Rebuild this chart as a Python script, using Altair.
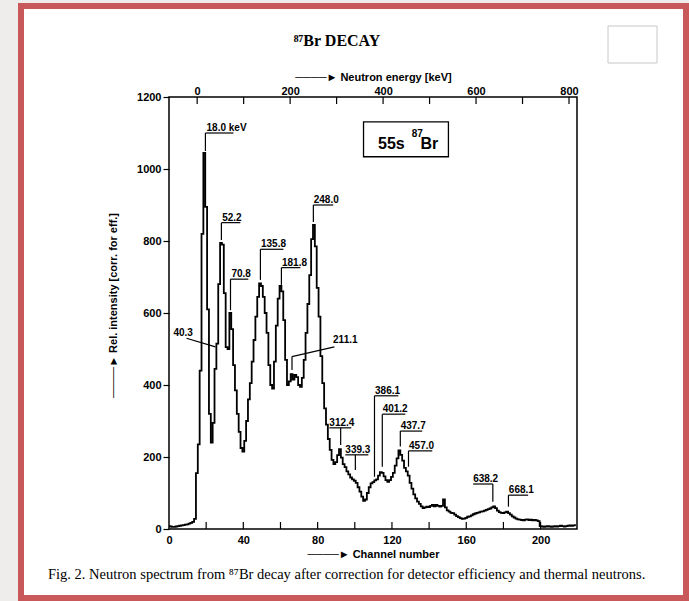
import altair as alt
import pandas as pd

FONT = "Liberation Sans Narrow, Liberation Sans, Arial, sans-serif"
SERIF = "Liberation Serif, DejaVu Serif, serif"

# ---------------- data ----------------
channel = list(range(220))
intensity = [
    8, 7, 6, 6, 7, 8, 9, 10, 11, 12, 13, 15, 17, 20, 28, 155, 235, 440, 820, 1045,
    895, 610, 320, 240, 295, 445, 515, 680, 795, 790, 655, 505, 500, 600, 555, 455, 385, 320, 270, 225,
    215, 245, 300, 360, 405, 465, 525, 590, 645, 682, 675, 645, 600, 545, 455, 400, 390, 465, 565, 640,
    675, 660, 580, 470, 400, 410, 430, 415, 428, 422, 400, 395, 420, 470, 545, 625, 705, 805, 845, 785,
    670, 590, 480, 405, 335, 290, 250, 220, 192, 180, 186, 205, 222, 198, 180, 172, 160, 152, 143, 138,
    134, 128, 116, 104, 90, 78, 82, 100, 116, 127, 130, 135, 138, 148, 158, 156, 146, 136, 131, 136,
    145, 156, 176, 196, 218, 206, 190, 170, 160, 148, 128, 112, 96, 85, 76, 70, 63, 58, 60, 62,
    61, 64, 67, 63, 67, 64, 62, 64, 82, 60, 52, 48, 45, 44, 40, 36, 33, 30, 28, 29,
    31, 34, 35, 38, 41, 43, 45, 46, 48, 49, 51, 53, 55, 57, 60, 63, 58, 51, 47, 45,
    44, 46, 48, 44, 40, 35, 32, 29, 27, 26, 25, 24, 26, 27, 25, 26, 24, 25, 24, 22,
    8, 7, 6, 7, 8, 7, 6, 7, 8, 7, 8, 9, 8, 7, 8, 9, 10, 9, 10, 11,
]

x_label_values = [0, 40, 80, 120, 160, 200]
x_tick_values = [20, 40, 60, 80, 100, 120, 140, 160, 180, 200]
y_values = [0, 200, 400, 600, 800, 1000, 1200]
energy_tick_values = [0, 100, 200, 300, 400, 500, 600, 700, 800]
energy_label_values = [0, 200, 400, 600, 800]

CH_DOMAIN = [0, 219.6]
E_DOMAIN = [-60.6, 817.2]
Y_DOMAIN = [0, 1200]

# peak annotations (underlined labels with vertical leaders)
ann_label = ["18.0 keV", "52.2", "70.8", "135.8", "181.8", "248.0", "312.4", "339.3",
             "386.1", "401.2", "437.7", "457.0", "638.2", "668.1"]
ann_text_ch = [20.2, 28.6, 33.6, 49.5, 60.8, 77.9, 86.3, 94.9, 110.9, 115.0, 124.7, 129.2, 163.7, 182.9]
ann_bar_v = [1100, 851, 694, 777, 726, 900, 281, 206, 370, 319, 272, 217, 125, 94]
ann_bar_start = [19.6, 28.2, 33.1, 49.2, 60.5, 77.7, 86.3, 94.9, 110.6, 114.8, 124.5, 128.9, 163.7, 182.7]
ann_bar_end = [34.7, 38.4, 42.7, 61.6, 70.7, 88.4, 98.1, 107.3, 123.4, 127.2, 136.3, 141.7, 174.3, 193.3]
ann_lead_ch = [19.6, 28.2, 33.1, 49.2, 60.5, 77.7, 92.4, 100.3, 110.6, 114.8, 124.5, 128.9, 174.3, 182.7]
ann_lead_v = [1050, 803, 608, 692, 678, 853, 233, 164, 145, 173, 229, 173, 76, 62]

# labels with slanted leaders
slant_label = ["40.3", "211.1"]
slant_text_ch = [2.4, 88.3]
slant_text_v = [536, 517]
slant_seg_x = [9.4, 89.0, 66.2]
slant_seg_y = [530, 506, 479]
slant_seg_x2 = [25.0, 66.2, 66.2]
slant_seg_y2 = [506, 479, 442]

# nuclide box
box_ch = [104.7, 150.4]
box_v = [1034, 1131]
box_text = ["55s", "87", "Br"]
box_text_ch = [112.5, 130.6, 135.3]
box_text_v = [1055, 1088, 1055]
box_text_size = [16, 10, 16]

# ---------------- tables ----------------
spec_df = pd.DataFrame({"ch": channel, "val": intensity})

seg_rows = []
for i in range(len(ann_label)):
    seg_rows.append({"sx": ann_bar_start[i], "sx2": ann_bar_end[i], "sy": ann_bar_v[i], "sy2": ann_bar_v[i]})
    seg_rows.append({"sx": ann_lead_ch[i], "sx2": ann_lead_ch[i], "sy": ann_bar_v[i], "sy2": ann_lead_v[i]})
for i in range(len(slant_seg_x)):
    seg_rows.append({"sx": slant_seg_x[i], "sx2": slant_seg_x2[i], "sy": slant_seg_y[i], "sy2": slant_seg_y2[i]})
seg_df = pd.DataFrame(seg_rows)

lab_rows = [{"tx": ann_text_ch[i], "ty": ann_bar_v[i] + 5.5, "label": ann_label[i]} for i in range(len(ann_label))]
lab_rows += [{"tx": slant_text_ch[i], "ty": slant_text_v[i], "label": slant_label[i]} for i in range(len(slant_label))]
lab_df = pd.DataFrame(lab_rows)


def xs():
    return alt.Scale(domain=CH_DOMAIN, nice=False, zero=False)


ys = alt.Scale(domain=Y_DOMAIN, nice=False, zero=False)
one = pd.DataFrame({"k": [0]})

# ---------------- layers ----------------
gray_left = alt.Chart(one).mark_rect(fill="#efecec").encode(
    x=alt.value(-169), x2=alt.value(-151), y=alt.value(-97), y2=alt.value(504))
gray_top = alt.Chart(one).mark_rect(fill="#efecec").encode(
    x=alt.value(-169), x2=alt.value(520), y=alt.value(-97), y2=alt.value(-94))
frame = alt.Chart(one).mark_rect(fill=None, stroke="#c9585b", strokeWidth=6).encode(
    x=alt.value(-148), x2=alt.value(517), y=alt.value(-91), y2=alt.value(501))
small_box = alt.Chart(one).mark_rect(fill="white", stroke="#c8c8c8", strokeWidth=1).encode(
    x=alt.value(439), x2=alt.value(488), y=alt.value(-71), y2=alt.value(-34))
title = alt.Chart(one).mark_text(text="⁸⁷Br DECAY", font=SERIF, fontSize=16, fontWeight="bold",
                                 align="center", baseline="alphabetic", color="black").encode(
    x=alt.value(168), y=alt.value(-51))
caption = alt.Chart(one).mark_text(
    text="Fig. 2. Neutron spectrum from ⁸⁷Br decay after correction for detector efficiency and thermal neutrons.",
    font=SERIF, fontSize=14.5, align="left", baseline="alphabetic", color="black").encode(
    x=alt.value(-121), y=alt.value(482))

spectrum = alt.Chart(spec_df).mark_line(interpolate="step", color="black", strokeWidth=1.8).encode(
    x=alt.X("ch:Q", scale=xs(), axis=alt.Axis(
        orient="bottom", values=x_label_values, format="d", ticks=False, domain=False, grid=False,
        labelFlush=False, labelOverlap=False,
        labelPadding=5, labelFont=FONT, labelFontSize=11, labelFontWeight="bold", labelColor="black",
        title="────► Channel number", titleFont=FONT, titleFontSize=11, titleFontWeight="bold",
        titleColor="black", titlePadding=3, zindex=1)),
    y=alt.Y("val:Q", scale=ys, axis=alt.Axis(
        orient="left", values=y_values, format="d", tickSize=6, tickColor="black", tickWidth=1.2,
        domain=False, grid=False, labelPadding=2, labelFont=FONT, labelFontSize=11,
        labelFontWeight="bold", labelColor="black", labelFlush=False, labelOverlap=False,
        title="────► Rel. intensity [corr. for eff.]", titleFont=FONT, titleFontSize=11,
        titleFontWeight="bold", titleColor="black", titleAngle=-90, titleX=-56, titleY=208,
        titleAlign="center", titleBaseline="middle", zindex=1)),
)

bottom_ticks = alt.Chart(pd.DataFrame({"ch": x_tick_values})).mark_rule(color="black", strokeWidth=1.2).encode(
    x=alt.X("ch:Q", scale=xs(), axis=None), y=alt.value(432), y2=alt.value(425))

segments = alt.Chart(seg_df).mark_rule(color="black", strokeWidth=1.2).encode(
    x=alt.X("sx:Q", scale=xs(), axis=None), x2="sx2:Q",
    y=alt.Y("sy:Q", scale=ys, axis=None), y2="sy2:Q")

labels = alt.Chart(lab_df).mark_text(align="left", baseline="alphabetic", font=FONT, fontSize=10,
                                     fontWeight="bold", color="black").encode(
    x=alt.X("tx:Q", scale=xs(), axis=None), y=alt.Y("ty:Q", scale=ys, axis=None), text="label:N")

box = alt.Chart(pd.DataFrame({"bx": [box_ch[0]], "bx2": [box_ch[1]], "by": [box_v[0]], "by2": [box_v[1]]})).mark_rect(
    fill=None, stroke="black", strokeWidth=1.3).encode(
    x=alt.X("bx:Q", scale=xs(), axis=None), x2="bx2:Q", y=alt.Y("by:Q", scale=ys, axis=None), y2="by2:Q")

box_text_df = pd.DataFrame({"tx": box_text_ch, "ty": box_text_v, "t": box_text, "fs": box_text_size})
box_label = alt.Chart(box_text_df).mark_text(align="left", baseline="alphabetic", font=FONT,
                                             fontWeight="bold", color="black").encode(
    x=alt.X("tx:Q", scale=xs(), axis=None), y=alt.Y("ty:Q", scale=ys, axis=None), text="t:N",
    size=alt.Size("fs:Q", scale=None, legend=None))

energy = alt.Chart(pd.DataFrame({"e": energy_tick_values})).mark_rule(color="black", strokeWidth=1.2).encode(
    x=alt.X("e:Q", scale=alt.Scale(domain=E_DOMAIN, nice=False, zero=False), axis=alt.Axis(
        orient="top", values=energy_label_values, format="d", ticks=False, domain=False, grid=False,
        labelFlush=False, labelOverlap=False, labelPadding=1, labelFont=FONT, labelFontSize=11,
        labelFontWeight="bold", labelColor="black",
        title="────► Neutron energy [keV]", titleFont=FONT, titleFontSize=11, titleFontWeight="bold",
        titleColor="black", titlePadding=3, zindex=1)),
    y=alt.value(0), y2=alt.value(7))

chart = alt.layer(
    gray_left, gray_top, frame, small_box, title, caption,
    spectrum, bottom_ticks, segments, labels, box, box_label, energy,
).resolve_scale(x="independent").resolve_axis(y="independent").properties(
    width=408, height=432,
    autosize=alt.AutoSizeParams(type="none"),
    padding={"left": 169, "top": 97, "right": 112, "bottom": 72},
    background="white",
).configure_view(stroke="black", strokeWidth=1.5)

chart.save("out.html", embed_options={"renderer": "svg", "actions": False})
